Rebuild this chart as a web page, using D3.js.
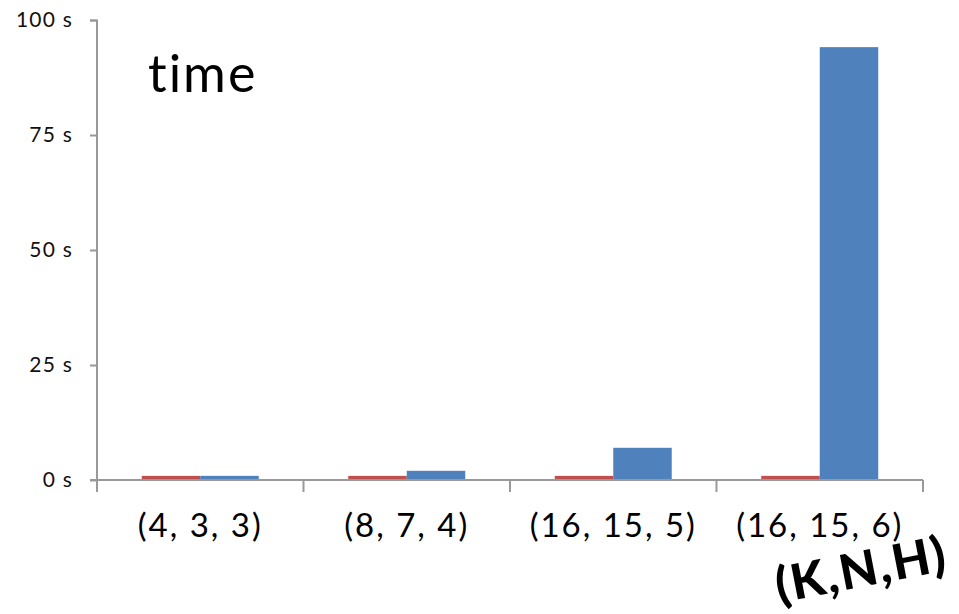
<!DOCTYPE html>
<html><head><meta charset="utf-8">
<script src="https://cdn.jsdelivr.net/npm/d3@7"></script>
<style>body{margin:0;background:#fff}svg{display:block}text{font-variant-ligatures:none}</style>
</head><body>
<script>
const categories = ["(4, 3, 3)", "(8, 7, 4)", "(16, 15, 5)", "(16, 15, 6)"];
const seriesRed = [0.9, 0.9, 0.9, 0.9];
const seriesBlue = [0.9, 2.0, 7.0, 94.1];
const yTicks = [0, 25, 50, 75, 100];
const seriesNames = ["red", "blue"];
const colors = {red: "#C0504D", blue: "#4F81BD"};

const W = 959, H = 614;
const svg = d3.select("body").append("svg").attr("width", W).attr("height", H);
const font = "'Century Gothic', 'URW Gothic', Lato, 'DejaVu Sans', sans-serif";

const x = d3.scaleBand().domain(categories).range([97, 923]).paddingInner(0).paddingOuter(0);
const inner = d3.scaleBand().domain(seriesNames).range([0, x.bandwidth()]).paddingInner(0).paddingOuter(0.765);
const y = d3.scaleLinear().domain([0, 100]).range([480, 20]);

// bars
const data = categories.map((c, i) => ({c, vals: [{s: "red", v: seriesRed[i]}, {s: "blue", v: seriesBlue[i]}]}));
const g = svg.append("g");
g.selectAll("g.cat").data(data).join("g").attr("class", "cat")
  .attr("transform", d => `translate(${x(d.c)},0)`)
  .selectAll("rect").data(d => d.vals).join("rect")
  .attr("x", d => inner(d.s)).attr("width", inner.bandwidth())
  .attr("y", d => y(d.v)).attr("height", d => y(0) - y(d.v))
  .attr("fill", d => colors[d.s]);

// y axis
const yAxis = d3.axisLeft(y).tickValues(yTicks).tickSize(7).tickPadding(17).tickFormat(d => d + " s");
const ya = svg.append("g").attr("transform", "translate(97,0)").call(yAxis);
ya.select(".domain").attr("stroke", "#999").attr("stroke-width", 2).attr("d", "M-7,20.5H0V492");
ya.selectAll(".tick line").attr("stroke", "#999").attr("stroke-width", 2);
ya.selectAll(".tick text").attr("font-family", font).attr("font-size", 21)
  .attr("letter-spacing", 1.2).attr("fill", "#111");

// x axis
const xAxis = d3.axisBottom(x).tickSize(0).tickPadding(34);
const xa = svg.append("g").attr("transform", "translate(0,480)").call(xAxis);
xa.select(".domain").attr("stroke", "#999").attr("stroke-width", 2).attr("d", "M90,0H923");
xa.selectAll(".tick text").attr("font-family", font).attr("font-size", 33)
  .attr("letter-spacing", 2).attr("fill", "#000");
const bounds = categories.map(c => x(c)).concat([x.range()[1]]);
xa.selectAll("line.sep").data(bounds).join("line").attr("class", "sep")
  .attr("x1", d => d).attr("x2", d => d).attr("y1", 0).attr("y2", 12)
  .attr("stroke", "#999").attr("stroke-width", 2);

// title label
svg.append("text").attr("x", 148).attr("y", 92).attr("font-family", font)
  .attr("font-size", 52).attr("letter-spacing", 2).attr("fill", "#000").text("time");

// axis label
svg.append("text").attr("transform", "translate(862,574) rotate(-11)")
  .attr("text-anchor", "middle").attr("dominant-baseline", "middle")
  .attr("font-family", font).attr("font-weight", 900).attr("font-size", 49)
  .attr("letter-spacing", 2).attr("fill", "#000")
  .text("(K,N,H)");
</script>
</body></html>
